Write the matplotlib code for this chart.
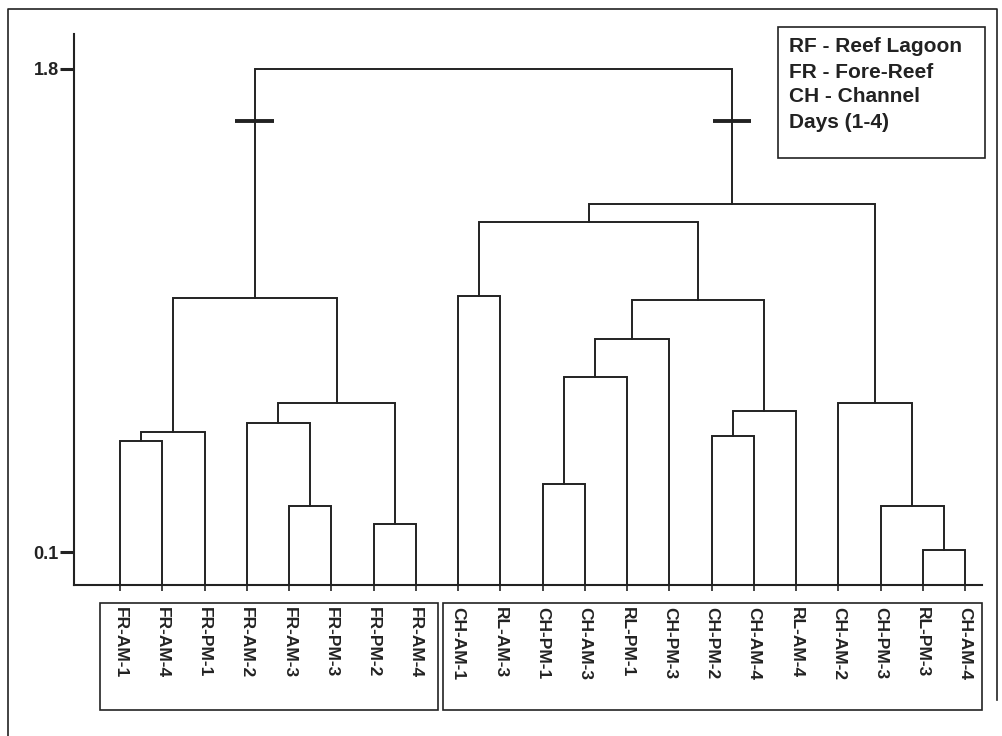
import matplotlib
matplotlib.use("Agg")
import matplotlib.pyplot as plt
from matplotlib.patches import Rectangle
from matplotlib.lines import Line2D

plt.rcParams['font.family'] = ['Liberation Sans', 'DejaVu Sans']

# ---- data ----
leaf_labels = ["FR-AM-1", "FR-AM-4", "FR-PM-1", "FR-AM-2", "FR-AM-3", "FR-PM-3",
               "FR-PM-2", "FR-AM-4", "CH-AM-1", "RL-AM-3", "CH-PM-1", "CH-AM-3",
               "RL-PM-1", "CH-PM-3", "CH-PM-2", "CH-AM-4", "RL-AM-4", "CH-AM-2",
               "CH-PM-3", "RL-PM-3", "CH-AM-4"]
# merges: ids < 21 are leaves, id 21+k is merge k
merge_left = [0, 21, 4, 3, 6, 24, 22, 8, 10, 29, 30, 14, 32, 31, 28, 19, 18, 17, 35, 27]
merge_right = [1, 2, 5, 23, 7, 25, 26, 9, 11, 12, 13, 15, 16, 33, 34, 20, 36, 37, 38, 39]
merge_height = [0.491, 0.522, 0.262, 0.554, 0.199, 0.624, 0.994, 1.001, 0.338, 0.716,
                0.849, 0.509, 0.597, 0.988, 1.260, 0.107, 0.263, 0.626, 1.325, 1.800]
cut_height = 1.618
ytick_values = [0.1, 1.8]
ytick_labels = ["0.1", "1.8"]
legend_lines = ["RF - Reef Lagoon", "FR - Fore-Reef", "CH - Channel", "Days (1-4)"]

W, H = 1002, 736
fig = plt.figure(figsize=(W / 100, H / 100), dpi=100)
fig.patch.set_facecolor('white')

def fx(px):
    return px / W

def fy(py):
    return 1 - py / H

ax = fig.add_axes([fx(74), fy(585), fx(982) - fx(74), fy(34) - fy(585)])
ymin, ymax = -0.016, 1.923
ax.set_xlim(-1.089, 20.40)
ax.set_ylim(ymin, ymax)

col = '#222222'
lw = 1.4
n = len(leaf_labels)
xpos = {i: float(i) for i in range(n)}
ypos = {i: ymin for i in range(n)}
for k, (a, b, h) in enumerate(zip(merge_left, merge_right, merge_height)):
    xa, xb = xpos[a], xpos[b]
    ax.plot([xa, xa, xb, xb], [ypos[a], h, h, ypos[b]], color=col, lw=lw,
            solid_joinstyle='miter', clip_on=False)
    xpos[n + k] = (xa + xb) / 2
    ypos[n + k] = h

for c in (merge_left[-1], merge_right[-1]):
    xc = xpos[c]
    ax.plot([xc - 0.46, xc + 0.46], [cut_height, cut_height], color=col, lw=2.8,
            solid_capstyle='butt')

for s in ('top', 'right'):
    ax.spines[s].set_visible(False)
for s in ('left', 'bottom'):
    ax.spines[s].set_color(col)
    ax.spines[s].set_linewidth(1.5)

ax.set_yticks(ytick_values)
ax.set_yticklabels(ytick_labels, fontsize=13, fontweight='bold', color=col)
ax.tick_params(axis='y', direction='out', length=10, width=2.2, pad=1, colors=col)

ax.set_xticks(range(n))
ax.set_xticklabels(leaf_labels, rotation=-90, fontsize=12.5, fontweight='bold',
                   color=col, ha='center', va='top')
ax.tick_params(axis='x', direction='out', length=4.5, width=1.2, pad=11, colors=col)

# label boxes
for (x0, x1) in [(100, 438), (443, 982)]:
    fig.add_artist(Rectangle((fx(x0), fy(710)), fx(x1) - fx(x0), fy(603) - fy(710),
                             transform=fig.transFigure, fill=False, ec=col, lw=1.2))

# legend box
fig.add_artist(Rectangle((fx(778), fy(158)), fx(985) - fx(778), fy(27) - fy(158),
                         transform=fig.transFigure, fill=False, ec=col, lw=1.2))
for i, t in enumerate(legend_lines):
    fig.text(fx(789), fy(47 + 25 * i), t, fontsize=15, fontweight='bold', color=col,
             ha='left', va='center')

# outer frame
fig.add_artist(Line2D([fx(8), fx(8), fx(997), fx(997)], [0, fy(9), fy(9), fy(700)],
                      transform=fig.transFigure, color=col, lw=1.2))

fig.savefig("out.png", dpi=100, facecolor='white')
